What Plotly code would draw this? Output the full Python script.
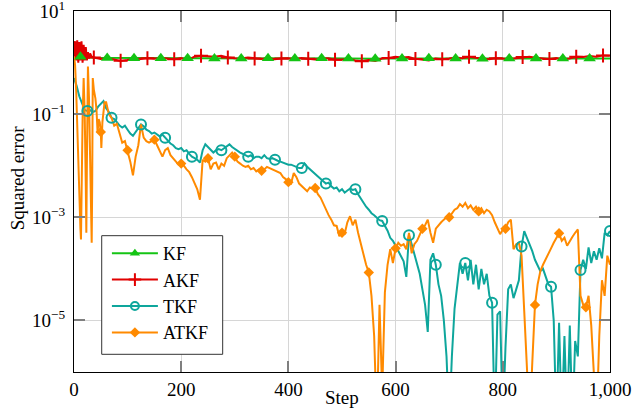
import plotly.graph_objects as go

# ---------------- data ----------------
kf_steps = [0] + [12 + 25 * k for k in range(40)] + [1000]
kf_vals = [1.45, 1.3, 1.24, 1.23, 1.22, 1.22, 1.21, 1.21, 1.22, 1.21,
           1.21, 1.2, 1.21, 1.2, 1.2, 1.21, 1.2, 1.2, 1.2, 1.21,
           1.2, 1.2, 1.2, 1.19, 1.2, 1.2, 1.2, 1.21, 1.2, 1.2,
           1.2, 1.19, 1.2, 1.2, 1.2, 1.2, 1.2, 1.2, 1.2, 1.2,
           1.2, 1.2]
kf_marker_steps = [12 + 50 * k for k in range(20)]

akf_steps = [0, 2, 4, 6, 8, 10, 12, 14, 16, 18, 20, 22, 24, 26, 28, 30, 33] + [37 + 12.5 * k for k in range(78)]
akf_vals = [1.3, 2.6, 1.1, 2.7, 1.0, 2.5, 1.1, 2.6, 1.0, 2.2, 1.1, 2.0, 1.1, 1.6, 1.2, 1.5, 1.3,
            1.25, 1.18, 1.22, 1.15, 1.08, 1.12, 1.2, 1.17, 1.22, 1.19,
            1.24, 1.2, 1.16, 1.22, 1.12, 1.3, 1.36, 1.33, 1.3, 1.35,
            1.26, 1.22, 1.2, 1.25, 1.2, 1.18, 1.23, 1.16, 1.2, 1.22,
            1.18, 1.23, 1.19, 1.15, 1.2, 1.22, 1.14, 1.13, 1.2, 1.1,
            1.06, 1.12, 1.08, 1.2, 1.23, 1.3, 1.25, 1.28, 1.18, 1.12,
            1.1, 1.2, 1.16, 1.2, 1.25, 1.22, 1.3, 1.24, 1.2, 1.16,
            1.22, 1.2, 1.18, 1.22, 1.28, 1.3, 1.24, 1.2, 1.18, 1.23,
            1.16, 1.2, 1.3, 1.28, 1.34, 1.3, 1.38, 1.36]
akf_marker_steps = [37 + 50 * k for k in range(20)]

tkf_steps = list(range(0, 1001, 5))
tkf_vals = [0.5, 0.35, 0.22, 0.16, 0.12, 0.115, 0.12, 0.11, 0.115, 0.14,
            0.16, 0.18, 0.13, 0.11, 0.085, 0.08, 0.07, 0.06, 0.055, 0.06,
            0.05, 0.042, 0.038, 0.045, 0.055, 0.063, 0.058, 0.05, 0.047, 0.042,
            0.044, 0.04, 0.037, 0.04, 0.035, 0.032, 0.027, 0.025, 0.022, 0.021,
            0.022, 0.019, 0.02, 0.017, 0.015, 0.014, 0.013, 0.0115, 0.02, 0.026,
            0.023, 0.02, 0.018, 0.02, 0.021, 0.02, 0.022, 0.024, 0.026, 0.023,
            0.021, 0.019, 0.018, 0.017, 0.016, 0.015, 0.016, 0.014, 0.015, 0.015,
            0.014, 0.016, 0.014, 0.0135, 0.014, 0.013, 0.0125, 0.012, 0.0115, 0.011,
            0.0105, 0.0105, 0.01, 0.0095, 0.009, 0.009, 0.011, 0.0095, 0.0085, 0.0075,
            0.0068, 0.006, 0.0055, 0.005, 0.0045, 0.0047, 0.004, 0.0036, 0.0038, 0.0032,
            0.0035, 0.003, 0.0033, 0.0036, 0.0034, 0.0035, 0.0028, 0.0023, 0.0019, 0.0016,
            0.0014, 0.0012, 0.0011, 0.001, 0.00088, 0.00085, 0.0007, 0.00055, 0.0004, 0.00035,
            0.00028, 0.00022, 0.00018, 0.00014, 7e-5, 4.5e-4, 3e-4, 2e-4, 1.3e-4, 8e-5,
            4e-5, 2e-5, 6e-6, 1.5e-4, 2e-4, 1.2e-4, 5e-5, 3e-5, 1e-5, 2e-6,
            1e-7, 2e-6, 1.7e-5, 5e-5, 1.3e-4, 8e-5, 1.3e-4, 6e-5, 1.5e-4, 5e-5,
            1.2e-4, 4e-5, 1e-4, 5e-5, 8e-5, 3e-5, 2.2e-5, 1e-7, 1.3e-5, 1.5e-5,
            1e-7, 3e-6, 4e-5, 5e-5, 2.7e-5, 4e-5, 6e-5, 2.7e-4, 5.4e-4, 4e-4,
            3e-4, 2.2e-4, 1.5e-4, 1.2e-4, 9e-5, 1e-4, 7e-5, 5e-5, 4.5e-5, 1e-5,
            1e-7, 9e-6, 1e-7, 5e-6, 1e-7, 8e-6, 1e-7, 4e-6, 2e-6, 9.5e-5,
            1.5e-4, 1e-4, 2.6e-4, 1.3e-4, 2.2e-4, 1.5e-4, 2.5e-4, 1.6e-4, 5e-4, 4.5e-4,
            5.4e-4]
tkf_marker_steps = [25, 70, 125, 170, 220, 275, 325, 375, 425, 470,
                    525, 575, 625, 675, 730, 780, 835, 890, 945, 1000]

atkf_steps = [0, 2, 4, 6, 8, 10, 12, 13, 14, 16, 18, 20, 22, 23, 24, 26, 28, 30, 32, 33,
              34, 35, 37, 40, 42, 44, 46, 48, 50, 51, 53, 55, 57] + list(range(60, 1001, 5))
atkf_vals = [1.3, 0.9, 0.3, 0.05, 0.01, 0.002, 0.0006, 3.7e-4, 0.003, 0.08,
             0.5, 0.1, 0.004, 5e-4, 0.01, 0.84, 0.2, 0.01, 0.001, 3.2e-4,
             0.005, 0.5, 0.3, 0.2, 0.12, 0.044, 0.08, 0.07, 0.045, 0.022,
             0.07, 0.12, 0.17,
             0.17, 0.1, 0.085, 0.06, 0.065, 0.04, 0.028, 0.03, 0.02, 0.012,
             0.0065, 0.015, 0.025, 0.063, 0.035, 0.03, 0.028, 0.03, 0.032, 0.025,
             0.02, 0.015, 0.02, 0.022, 0.016, 0.014, 0.012, 0.0105, 0.011, 0.01,
             0.0085, 0.0075, 0.006, 0.0045, 0.0035, 0.0022, 0.013, 0.012, 0.014, 0.0085,
             0.011, 0.0115, 0.0085, 0.011, 0.01, 0.014, 0.016, 0.018, 0.015, 0.012,
             0.011, 0.01, 0.0095, 0.01, 0.0085, 0.009, 0.0078, 0.0085, 0.008, 0.0085,
             0.0095, 0.009, 0.0085, 0.008, 0.0075, 0.0072, 0.006, 0.0055, 0.0048, 0.0045,
             0.0072, 0.006, 0.0045, 0.004, 0.0035, 0.0032, 0.0038, 0.0036, 0.0037, 0.0028,
             0.0024, 0.0018, 0.0014, 0.0011, 0.0009, 0.0007, 0.00068, 0.00043, 0.0005, 0.00048,
             0.0008, 0.00105, 0.0007, 0.0009, 0.0005, 0.0003, 0.00018, 0.00012, 8.5e-5, 3e-5,
             5e-6, 1e-7, 2e-5, 4e-7, 3.5e-5, 1.2e-4, 2.4e-4, 1.3e-4, 2.5e-4, 3.2e-4,
             2.8e-4, 3e-4, 2.4e-4, 5e-4, 2e-4, 3e-4, 3.5e-4, 4.5e-4, 6e-4, 7e-4,
             9e-4, 5e-4, 3.2e-4, 6e-4, 7e-4, 8e-4, 9e-4, 1e-3, 1e-3, 1.2e-3,
             1.4e-3, 1.5e-3, 1.8e-3, 1.6e-3, 1.9e-3, 1.5e-3, 1.7e-3, 1.4e-3, 1.6e-3, 1.3e-3,
             1.5e-3, 1.2e-3, 1.4e-3, 1.3e-3, 1.1e-3, 8e-4, 6e-4, 4.7e-4, 5.8e-4, 6e-4,
             8e-4, 9e-4, 2.4e-4, 3e-4, 3.2e-4, 1.8e-4, 1.5e-5, 1e-6, 1e-7, 1.5e-6,
             2e-5, 5e-5, 9e-5, 1.2e-4, 1.5e-4, 2e-4, 2.5e-4, 3.2e-4, 4e-4, 4.9e-4,
             3.5e-4, 4e-4, 2.8e-4, 3.5e-4, 4.2e-4, 5e-4, 5.8e-4, 3e-5, 2e-5, 1.8e-5,
             3e-5, 8e-6, 1e-6, 1e-7, 5e-6, 6e-5, 3e-5, 1.8e-4, 1.2e-4]
atkf_marker_steps = [50, 100, 150, 200, 250, 300, 350, 400, 450, 500,
                     550, 600, 650, 700, 755, 805, 860, 905, 955]

x_ticks = [0, 200, 400, 600, 800, 1000]
x_ticktext = ["0", "200", "400", "600", "800", "1,000"]
y_ticks = [10, 0.1, 1e-3, 1e-5]
y_ticktext = ["10<sup>1</sup>", "10<sup>−1</sup>", "10<sup>−3</sup>", "10<sup>−5</sup>"]

# ---------------- figure ----------------
FONT = "Liberation Serif, Times New Roman, serif"

series = [
    dict(name="KF", steps=kf_steps, vals=kf_vals, marks=kf_marker_steps, color="#14c414",
         marker=dict(symbol="triangle-up", size=11, color="#14c414", line=dict(width=0))),
    dict(name="AKF", steps=akf_steps, vals=akf_vals, marks=akf_marker_steps, color="#e10000",
         marker=dict(symbol="cross-thin", size=10, color="#e10000", line=dict(color="#e10000", width=2))),
    dict(name="TKF", steps=tkf_steps, vals=tkf_vals, marks=tkf_marker_steps, color="#0ea69c",
         marker=dict(symbol="circle-open", size=10, color="#0ea69c", line=dict(color="#0ea69c", width=2))),
    dict(name="ATKF", steps=atkf_steps, vals=atkf_vals, marks=atkf_marker_steps, color="#ff8a00",
         marker=dict(symbol="diamond", size=8, color="#ff8a00", line=dict(width=0))),
]

fig = go.Figure()

for s in series:
    fig.add_trace(go.Scatter(x=s["steps"], y=s["vals"], mode="lines",
                             line=dict(color=s["color"], width=2),
                             showlegend=False, hoverinfo="skip"))

for s in series:
    lookup = dict(zip(s["steps"], s["vals"]))
    mx = [m for m in s["marks"] if m in lookup]
    my = [lookup[m] for m in mx]
    fig.add_trace(go.Scatter(x=mx, y=my, mode="markers", marker=s["marker"],
                             showlegend=False, hoverinfo="skip"))

legend_marker_size = {"KF": 9, "AKF": 9, "TKF": 8, "ATKF": 8}
for s in series:
    m = dict(s["marker"])
    m["size"] = legend_marker_size[s["name"]]
    fig.add_trace(go.Scatter(x=[None], y=[None], mode="lines+markers", name=s["name"],
                             line=dict(color=s["color"], width=2), marker=m))

axis_common = dict(showgrid=True, gridcolor="#d6d6d6", gridwidth=1.2,
                   ticks="inside", ticklen=11, tickcolor="#7f7f7f", tickwidth=1.5,
                   showline=True, linecolor="black", linewidth=1.3, mirror="ticks",
                   zeroline=False, automargin=False, ticklabeloverflow="allow",
                   tickfont=dict(family=FONT, size=19, color="black"))

fig.update_xaxes(range=[0, 1000], tickvals=x_ticks, ticktext=x_ticktext, **axis_common)
fig.update_yaxes(type="log", range=[-6.0005, 1.0005], tickvals=y_ticks, ticktext=y_ticktext,
                 ticklabelstandoff=4, **axis_common)

fig.update_layout(
    width=632, height=411,
    margin=dict(l=74, r=22, t=11, b=39),
    plot_bgcolor="white", paper_bgcolor="white",
    font=dict(family=FONT, size=19, color="black"),
    legend=dict(x=0.0614, y=0.3795, xanchor="left", yanchor="top",
                bgcolor="rgba(0,0,0,0)", borderwidth=0,
                font=dict(family=FONT, size=18, color="black"),
                itemwidth=46),
    shapes=[dict(type="rect", xref="paper", yref="paper",
                 x0=0.0517, x1=0.2774, y0=0.049, y1=0.3776,
                 fillcolor="white", line=dict(color="#333333", width=1), layer="above")],
    annotations=[
        dict(text="Step", x=0.5, y=-0.072, xref="paper", yref="paper",
             xanchor="center", yanchor="middle", showarrow=False,
             font=dict(family=FONT, size=19, color="black")),
        dict(text="Squared error", x=-0.106, y=0.537, xref="paper", yref="paper",
             xanchor="center", yanchor="middle", showarrow=False, textangle=-90,
             font=dict(family=FONT, size=19, color="black")),
    ],
)

fig.write_html("out.html", config={"displayModeBar": False},
               post_script="document.body.style.margin='0';document.body.style.overflow='hidden';")
